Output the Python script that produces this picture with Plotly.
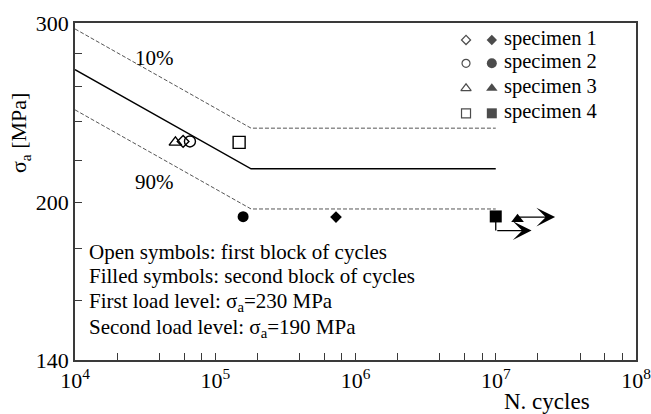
import math
import plotly.graph_objects as go

# ---------------- data ----------------
specimens = ["specimen 1", "specimen 2", "specimen 3", "specimen 4"]
open_symbols = ["diamond-open", "circle-open", "triangle-up-open", "square-open"]
filled_symbols = ["diamond", "circle", "triangle-up", "square"]

# first block of cycles (sigma_a = 230 MPa)
open_cycles = [5.9e4, 6.6e4, 5.2e4, 1.48e5]
open_stress = [229.5, 229.5, 229.0, 229.0]

# second block of cycles (sigma_a = 190 MPa)
filled_cycles = [7.26e5, 1.58e5, 1.43e7, 1.0e7]
filled_stress = [193.4, 193.6, 192.5, 193.7]

# S-N curves: median, 10 %, 90 %
curve_cycles = [1e4, 1.8e5, 1e7]
median_stress = [270.0, 215.7, 215.7]
p10_stress = [296.0, 236.5, 236.5]
p90_stress = [246.5, 197.0, 197.0]

# run-out arrows (specimen 3 and 4)
runout_tri_end = 2.65e7
runout_sq_drop = 187.6
runout_sq_end = 1.8e7

x_tickvals = [m * 10 ** e for e in range(4, 8) for m in (1, 2, 4, 6, 8)] + [1e8]
x_ticktext = [("10<sup>%d</sup>" % int(round(math.log10(v)))) if abs(math.log10(v) - round(math.log10(v))) < 1e-9 else "" for v in x_tickvals]
y_tickvals = [140, 160, 180, 200, 220, 240, 260, 280, 300]
y_ticktext = ["140", "", "", "200", "", "", "", "", "300"]

FONT = "Liberation Serif, Times New Roman, serif"

fig = go.Figure()

# curves
fig.add_trace(go.Scatter(x=curve_cycles, y=p10_stress, mode="lines",
                         line=dict(color="#555555", width=1, dash="4px,2px"), showlegend=False))
fig.add_trace(go.Scatter(x=curve_cycles, y=p90_stress, mode="lines",
                         line=dict(color="#555555", width=1, dash="4px,2px"), showlegend=False))
fig.add_trace(go.Scatter(x=curve_cycles, y=median_stress, mode="lines",
                         line=dict(color="black", width=1.5), showlegend=False))

open_sizes = [9, 11, 11, 12]
filled_sizes = [9, 11, 11, 12]
for i in range(4):
    fig.add_trace(go.Scatter(x=[open_cycles[i]], y=[open_stress[i]], mode="markers",
                             marker=dict(symbol=open_symbols[i], size=open_sizes[i], color="black",
                                         line=dict(width=1.4, color="black")),
                             showlegend=False))
    fig.add_trace(go.Scatter(x=[filled_cycles[i]], y=[filled_stress[i]], mode="markers",
                             marker=dict(symbol=filled_symbols[i], size=filled_sizes[i], color="black",
                                         line=dict(width=0, color="black")),
                             showlegend=False))

# run-out: vertical drop for specimen 4
fig.add_trace(go.Scatter(x=[filled_cycles[3], filled_cycles[3]], y=[filled_stress[3], runout_sq_drop],
                         mode="lines", line=dict(color="black", width=1.3), showlegend=False))

# legend glyphs on overlay axes
leg_rows = [0.9496, 0.8804, 0.8062, 0.7320]
leg_x_open, leg_x_fill, leg_x_text = 0.697, 0.743, 0.762
leg_open_sizes = [7, 8, 9, 9]
leg_fill_sizes = [8, 10, 10, 10]
fig.add_trace(go.Scatter(x=[leg_x_open] * 4, y=leg_rows, mode="markers", xaxis="x2", yaxis="y2",
                         marker=dict(symbol=open_symbols, size=leg_open_sizes, color="black",
                                     line=dict(width=1.2, color="black")), showlegend=False))
fig.add_trace(go.Scatter(x=[leg_x_fill] * 4, y=leg_rows, mode="markers", xaxis="x2", yaxis="y2",
                         marker=dict(symbol=filled_symbols, size=leg_fill_sizes, color="black",
                                     line=dict(width=0)), showlegend=False))

annotations = []
for name, yy in zip(specimens, leg_rows):
    annotations.append(dict(x=leg_x_text, y=yy + 0.004, xref="paper", yref="paper", text=name,
                            showarrow=False, xanchor="left", yanchor="middle",
                            font=dict(family=FONT, size=20.5, color="black")))

# run-out arrows
annotations.append(dict(x=math.log10(runout_tri_end), y=math.log10(filled_stress[2] + 0.9),
                        ax=math.log10(filled_cycles[2]), ay=math.log10(filled_stress[2] + 0.9),
                        xref="x", yref="y", axref="x", ayref="y", text="", showarrow=True,
                        arrowhead=3, arrowsize=2.4, arrowwidth=1.3, arrowcolor="black", standoff=0))
annotations.append(dict(x=math.log10(runout_sq_end), y=math.log10(runout_sq_drop),
                        ax=math.log10(filled_cycles[3]), ay=math.log10(runout_sq_drop),
                        xref="x", yref="y", axref="x", ayref="y", text="", showarrow=True,
                        arrowhead=3, arrowsize=2.4, arrowwidth=1.3, arrowcolor="black", standoff=0))

# percentile labels
annotations.append(dict(x=4.57, y=math.log10(277.2), xref="x", yref="y", text="10%", showarrow=False,
                        font=dict(family=FONT, size=21, color="black")))
annotations.append(dict(x=4.57, y=math.log10(209.4), xref="x", yref="y", text="90%", showarrow=False,
                        font=dict(family=FONT, size=21, color="black")))

# explanatory text
notes = ["Open symbols: first block of cycles",
         "Filled symbols: second block of cycles",
         "First load level: σ<sub>a</sub>=230 MPa",
         "Second load level: σ<sub>a</sub>=190 MPa"]
note_y = [0.321, 0.2493, 0.1727, 0.094]
for t, yy in zip(notes, note_y):
    annotations.append(dict(x=0.021, y=yy, xref="paper", yref="paper", text=t, showarrow=False,
                            xanchor="left", yanchor="middle",
                            font=dict(family=FONT, size=21, color="black")))

# axis titles
annotations.append(dict(x=-0.098, y=0.6736, xref="paper", yref="paper", text="σ<sub>a</sub> [MPa]",
                        textangle=-90, showarrow=False, xanchor="center", yanchor="middle",
                        font=dict(family=FONT, size=22, color="black")))
annotations.append(dict(x=0.842, y=-0.079, xref="paper", yref="paper", text="N. cycles",
                        showarrow=False, xanchor="center", yanchor="top",
                        font=dict(family=FONT, size=23, color="black")))

axis_common = dict(showgrid=False, zeroline=False, showline=True, linecolor="#3a3a3a", linewidth=1.8,
                   mirror=True, ticks="inside", ticklen=7, tickwidth=1.3, tickcolor="#3a3a3a",
                   automargin=False, ticklabeloverflow="allow",
                   tickfont=dict(family=FONT, size=22, color="black"))

fig.update_layout(
    width=651, height=414,
    margin=dict(l=75, r=15, t=23, b=54),
    paper_bgcolor="white", plot_bgcolor="white",
    showlegend=False,
    xaxis=dict(type="log", range=[4, 8], tickmode="array", tickvals=x_tickvals, ticktext=x_ticktext,
               **axis_common),
    yaxis=dict(type="log", range=[math.log10(140), math.log10(300)], tickmode="array",
               tickvals=y_tickvals, ticktext=y_ticktext, **axis_common),
    xaxis2=dict(overlaying="x", range=[0, 1], visible=False, anchor="y2"),
    yaxis2=dict(overlaying="y", range=[0, 1], visible=False, anchor="x2"),
    annotations=annotations,
)

fig.write_html("out.html", config={"displayModeBar": False},
               post_script="document.body.style.margin='0';document.body.style.padding='0';")
